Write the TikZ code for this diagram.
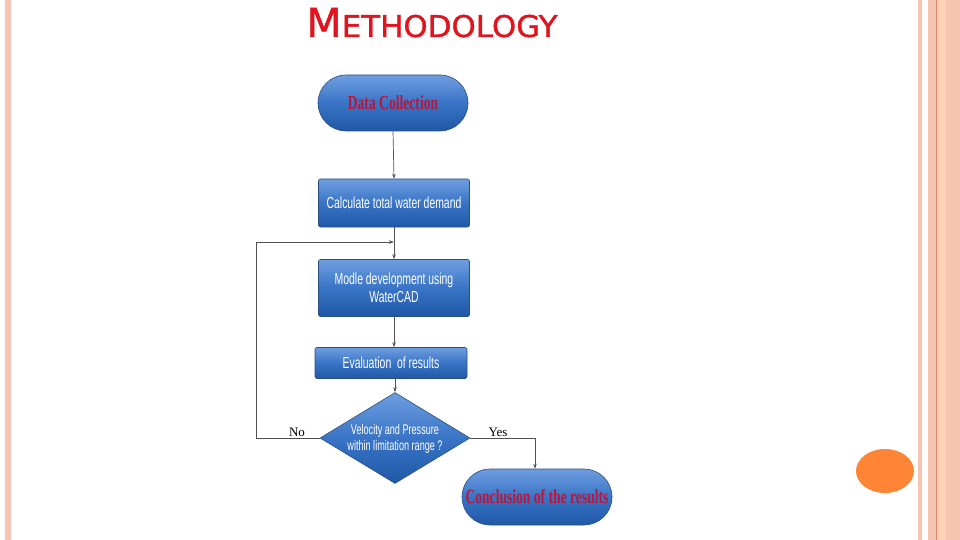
\documentclass[tikz,border=0pt]{standalone}
\usepackage{fontspec}
\setmainfont{Liberation Sans}
\newfontfamily\boxfont[FakeStretch=0.65]{Liberation Sans}
\newfontfamily\termfont[FakeStretch=0.68]{Liberation Serif}
\newfontfamily\labfont{Liberation Serif}
\newfontfamily\titlefont[FakeStretch=1.03,FakeBold=1.2]{DejaVu Sans}
\usetikzlibrary{shapes.misc,shapes.geometric,arrows.meta}
\definecolor{boxtop}{HTML}{6E9EE0}
\definecolor{boxmid}{HTML}{3A74C6}
\definecolor{boxbot}{HTML}{1F58A6}
\definecolor{boxedge}{HTML}{2A4F80}
\definecolor{termtext}{HTML}{B8163C}
\definecolor{titlered}{HTML}{E0141E}
\definecolor{stripe}{HTML}{F8C4B2}
\definecolor{stripelight}{HTML}{FFD2B8}
\definecolor{stripedark}{HTML}{D88A68}
\definecolor{dotorange}{HTML}{FD8535}
\definecolor{linegray}{HTML}{505050}
\tikzset{
  bluefill/.style={top color=boxtop, bottom color=boxbot, middle color=boxmid, draw=boxedge, line width=0.6pt},
  terminal/.style={bluefill, rounded rectangle, minimum width=150pt, minimum height=56pt, inner sep=0pt,
     font=\termfont\bfseries\fontsize{20}{22}\selectfont, text=termtext},
  process/.style={bluefill, rectangle, rounded corners=2pt, minimum width=151pt, inner sep=0pt,
     font=\boxfont\fontsize{16}{18}\selectfont, text=white, align=center},
  decision/.style={bluefill, diamond, minimum width=150pt, minimum height=91pt, inner sep=0pt},
  flow/.style={draw=linegray, line width=0.7pt, -{Stealth[length=5pt,width=3.5pt]}},
  plainflow/.style={draw=linegray, line width=0.7pt},
  lab/.style={font=\labfont\fontsize{13}{15}\selectfont, text=black}
}
\begin{document}
\begin{tikzpicture}[x=1pt,y=-1pt]
\useasboundingbox (0,0) rectangle (960,540);
\fill[white] (0,0) rectangle (960,540);
% decorative stripes
\fill[stripe] (5,0) rectangle (11,540);
\fill[stripe] (918,0) rectangle (922,540);
\fill[stripe] (928,0) rectangle (960,540);
\fill[stripelight] (937,0) rectangle (946,540);
\fill[stripedark] (936,0) rectangle (937,540);
% title
\node[anchor=base west, inner sep=0pt, text=titlered] (title) at (306,37)
  {\titlefont{\fontsize{40}{40}\selectfont M}{\fontsize{30}{30}\selectfont ETHODOLOGY}};
% orange dot
\fill[dotorange] (885,471) ellipse [x radius=29, y radius=22];
% nodes
\node[terminal] (data) at (393,103) {Data Collection};
\node[process, minimum height=48pt] (calc) at (394,203) {Calculate total water demand};
\node[process, minimum height=57pt] (modle) at (394,288) {Modle development using\\WaterCAD};
\node[process, minimum height=31pt, minimum width=152pt] (eval) at (391,363) {Evaluation\ \ of results};
\node[decision] (dia) at (395,438) {};
\node[font=\boxfont\fontsize{14}{16}\selectfont, text=white, align=center] (diatext) at (395,439)
  {Velocity and Pressure\\within limitation range ?};
\node[terminal] (concl) at (537,497) {Conclusion of the results};
\coordinate (join) at (394,242);
\coordinate (leftturn) at (256,438);
\coordinate (rightturn) at (535,438);
% connectors
\draw[flow] (data.south) -- (calc.north);
\draw[plainflow] (calc.south) -- (join);
\draw[flow] (join) -- (modle.north);
\draw[flow] (modle.south) -- (eval.north -| modle.south);
\draw[flow] (eval.south -| dia.north) -- (dia.north);
\draw[flow] (dia.west) -- (leftturn) |- (join);
\draw[flow] (dia.east) -- (rightturn) -- (concl.north -| rightturn);
% labels
\node[lab] (no) at (297,432) {No};
\node[lab] (yes) at (498,432) {Yes};
\end{tikzpicture}
\end{document}
